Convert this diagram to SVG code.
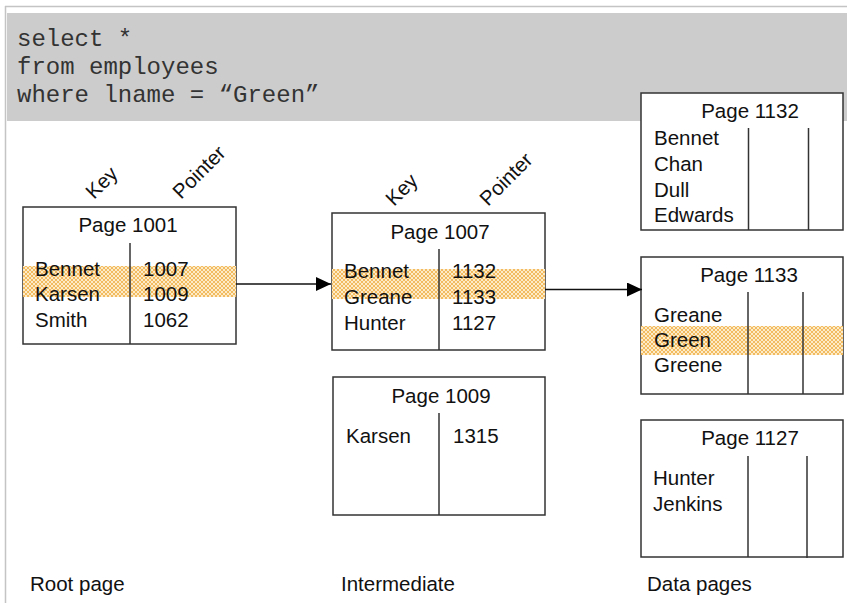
<svg xmlns="http://www.w3.org/2000/svg" width="847" height="603" viewBox="0 0 847 603">
<style>
.box{fill:#fff;stroke:#333;stroke-width:1.5}
.div{stroke:#333;stroke-width:1.5}
.t{font-family:"Liberation Sans",Arial,sans-serif;font-size:20.5px;fill:#111}
.mid{text-anchor:middle}
.code{font-family:"Liberation Mono","Courier New",monospace;font-size:24px;fill:#333}
.hl{fill:url(#hatch)}
.conn{stroke:#111;stroke-width:1.3;fill:none}
</style>
<defs>
<pattern id="hatch" width="4" height="4" patternUnits="userSpaceOnUse">
<rect width="4" height="4" fill="#fdebc8"/>
<path d="M0,0L4,4M4,0L0,4" stroke="#f1b655" stroke-width="0.9"/>
</pattern>
<marker id="arr" markerWidth="15" markerHeight="14" refX="15" refY="7" orient="auto" markerUnits="userSpaceOnUse">
<path d="M0,0L15,7L0,14Z" fill="#000"/>
</marker>
</defs>
<rect x="0" y="0" width="847" height="603" fill="#fff"/>
<line x1="5" y1="6.5" x2="847" y2="6.5" stroke="#c4c4c4" stroke-width="1.5"/>
<line x1="5.5" y1="6" x2="5.5" y2="603" stroke="#c4c4c4" stroke-width="1.5"/>
<g id="query">
<rect x="7" y="13" width="840" height="108" fill="#cccccc"/>
<text class="code" x="17" y="46">select *</text>
<text class="code" x="17" y="74">from employees</text>
<text class="code" x="17" y="102">where lname = “Green”</text>
</g>
<g id="headers">
<text class="t" transform="translate(94,200) rotate(-45)">Key</text>
<text class="t" transform="translate(181,200) rotate(-45)">Pointer</text>
<text class="t" transform="translate(394,207) rotate(-45)">Key</text>
<text class="t" transform="translate(488,207) rotate(-45)">Pointer</text>
</g>
<g id="page1001">
<rect class="box" x="23" y="207" width="213" height="137"/>
<rect class="hl" x="23" y="266" width="213" height="31"/>
<line class="div" x1="130" y1="243" x2="130" y2="344"/>
<text class="t mid" x="128" y="232">Page 1001</text>
<text class="t" x="35" y="276">Bennet</text>
<text class="t" x="35" y="301">Karsen</text>
<text class="t" x="35" y="327">Smith</text>
<text class="t" x="143" y="276">1007</text>
<text class="t" x="143" y="301">1009</text>
<text class="t" x="143" y="327">1062</text>
</g>
<g id="page1007">
<rect class="box" x="332" y="213" width="213" height="137"/>
<rect class="hl" x="332" y="269" width="213" height="30"/>
<line class="div" x1="439" y1="249" x2="439" y2="350"/>
<text class="t mid" x="440" y="239">Page 1007</text>
<text class="t" x="344" y="278">Bennet</text>
<text class="t" x="344" y="304">Greane</text>
<text class="t" x="344" y="330">Hunter</text>
<text class="t" x="452" y="278">1132</text>
<text class="t" x="452" y="304">1133</text>
<text class="t" x="452" y="330">1127</text>
</g>
<g id="page1009">
<rect class="box" x="333" y="377" width="212" height="138"/>
<line class="div" x1="439" y1="413" x2="439" y2="515"/>
<text class="t mid" x="441" y="403">Page 1009</text>
<text class="t" x="346" y="443">Karsen</text>
<text class="t" x="453" y="443">1315</text>
</g>
<g id="page1132">
<rect class="box" x="641" y="93" width="202" height="137"/>
<line class="div" x1="748.5" y1="128" x2="748.5" y2="230"/>
<line class="div" x1="808.5" y1="128" x2="808.5" y2="230"/>
<text class="t mid" x="750" y="118">Page 1132</text>
<text class="t" x="654" y="145">Bennet</text>
<text class="t" x="654" y="171">Chan</text>
<text class="t" x="654" y="197">Dull</text>
<text class="t" x="654" y="222">Edwards</text>
</g>
<g id="page1133">
<rect class="box" x="641" y="257" width="202" height="137"/>
<rect class="hl" x="641" y="326" width="202" height="29"/>
<line class="div" x1="748" y1="292" x2="748" y2="394"/>
<line class="div" x1="803" y1="292" x2="803" y2="394"/>
<text class="t mid" x="749" y="282">Page 1133</text>
<text class="t" x="654" y="322">Greane</text>
<text class="t" x="654" y="347">Green</text>
<text class="t" x="654" y="372">Greene</text>
</g>
<g id="page1127">
<rect class="box" x="641" y="420" width="202" height="137"/>
<line class="div" x1="748" y1="456" x2="748" y2="557"/>
<line class="div" x1="807" y1="456" x2="807" y2="558"/>
<text class="t mid" x="750" y="445">Page 1127</text>
<text class="t" x="653" y="485">Hunter</text>
<text class="t" x="653" y="511">Jenkins</text>
</g>
<g id="connectors">
<line class="conn" x1="236" y1="284" x2="331" y2="284" marker-end="url(#arr)"/>
<line class="conn" x1="545" y1="289.5" x2="642" y2="289.5" marker-end="url(#arr)"/>
</g>
<g id="labels">
<text class="t" x="30" y="591">Root page</text>
<text class="t" x="341" y="591">Intermediate</text>
<text class="t" x="647" y="591">Data pages</text>
</g>
</svg>
